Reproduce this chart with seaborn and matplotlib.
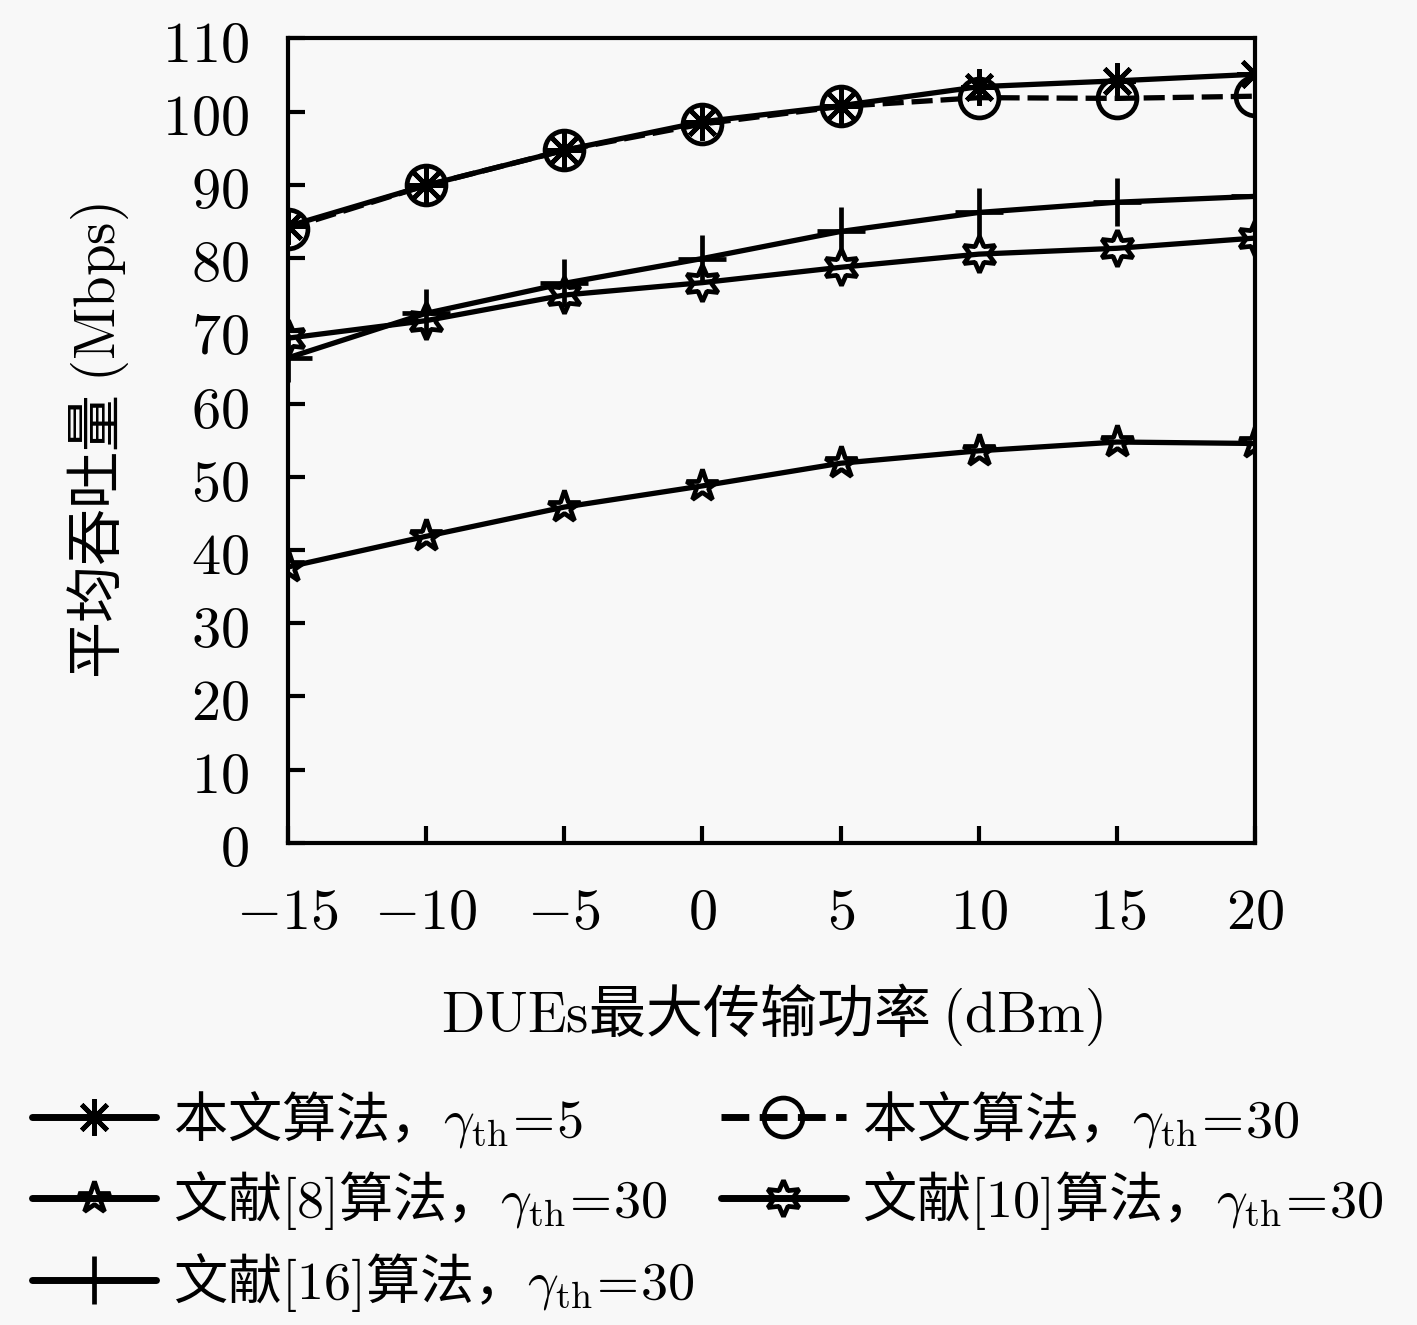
import numpy as np
import pandas as pd
import matplotlib
matplotlib.use("Agg")
import matplotlib.pyplot as plt
import seaborn as sns

# data
power = [-15, -10, -5, 0, 5, 10, 15, 20]
ours_g5 = [84.3, 89.9, 94.7, 98.6, 100.8, 103.4, 104.2, 105.1]
ours_g30 = [84.0, 89.9, 94.7, 98.3, 100.7, 101.9, 101.8, 102.1]
ref8 = [37.7, 41.9, 45.9, 48.8, 51.9, 53.6, 54.8, 54.6]
ref10 = [69.0, 71.4, 74.9, 76.6, 78.7, 80.5, 81.3, 82.7]
ref16 = [66.3, 72.4, 76.5, 79.9, 83.6, 86.2, 87.6, 88.4]

labels = [r"本文算法，$\gamma_{\mathrm{th}}\!=\!5$",
          r"本文算法，$\gamma_{\mathrm{th}}\!=\!30$",
          r"文献$[8]$算法，$\gamma_{\mathrm{th}}\!=\!30$",
          r"文献$[10]$算法，$\gamma_{\mathrm{th}}\!=\!30$",
          r"文献$[16]$算法，$\gamma_{\mathrm{th}}\!=\!30$"]

sns.set_style("ticks", {'axes.edgecolor': 'black', 'text.color': 'black',
                        'xtick.color': 'black', 'ytick.color': 'black',
                        'axes.labelcolor': 'black'})
plt.rcParams['font.family'] = ['Noto Sans CJK SC', 'DejaVu Sans']
plt.rcParams['mathtext.fontset'] = 'cm'
plt.rcParams['axes.unicode_minus'] = True

fig = plt.figure(figsize=(14.17, 13.25), dpi=100, facecolor='#f8f8f8')
ax = fig.add_axes([0.203, 0.364, 0.683, 0.607])
ax.set_facecolor('#f8f8f8')

series = [ours_g5, ours_g30, ref8, ref10, ref16]
markers = [(8, 2, 0), 'o', '*', (6, 1, 0), '+']
msizes = [26, 28, 24, 26, 34]
styles = ['-', (0, (4, 1.5)), '-', '-', '-']

for vals, lab, mk, ms, ls in zip(series, labels, markers, msizes, styles):
    sns.lineplot(x=power, y=vals, ax=ax, color='black', linewidth=3.8,
                 linestyle=ls, marker=mk, markersize=ms,
                 markerfacecolor='none', markeredgecolor='black',
                 markeredgewidth=3.4, label=lab, legend=False)

ax.set_xlim(-15, 20)
ax.set_ylim(0, 110)
ax.set_xticks(power)
ax.set_yticks(range(0, 111, 10))
ax.set_xticklabels([f"${v}$" for v in power])
ax.set_yticklabels([f"${v}$" for v in range(0, 111, 10)])
ax.tick_params(direction='in', length=12, width=3, labelsize=42,
               colors='black')
ax.tick_params(axis='x', pad=28)
ax.tick_params(axis='y', pad=28)
for s in ax.spines.values():
    s.set_linewidth(3)
    s.set_color('black')
    s.set_visible(True)

ax.set_xlabel(r"$\mathrm{DUEs}$最大传输功率 $(\mathrm{dBm})$", fontsize=41, labelpad=28)
ax.set_ylabel(r"平均吞吐量 $(\mathrm{Mbps})$", fontsize=41, labelpad=22)

# legend fills row by row in the reference
handles, labs = ax.get_legend_handles_labels()
order = [0, 2, 4, 1, 3]
leg = fig.legend([handles[i] for i in order], [labs[i] for i in order],
                 loc='upper left', bbox_to_anchor=(-0.012, 0.215),
                 ncol=2, fontsize=39, frameon=False, handlelength=2.3,
                 handletextpad=0.3, columnspacing=0.5, labelspacing=0.35)
for ln in leg.get_lines():
    ln.set_linewidth(5)

fig.savefig("out.png", dpi=100, facecolor=fig.get_facecolor())
